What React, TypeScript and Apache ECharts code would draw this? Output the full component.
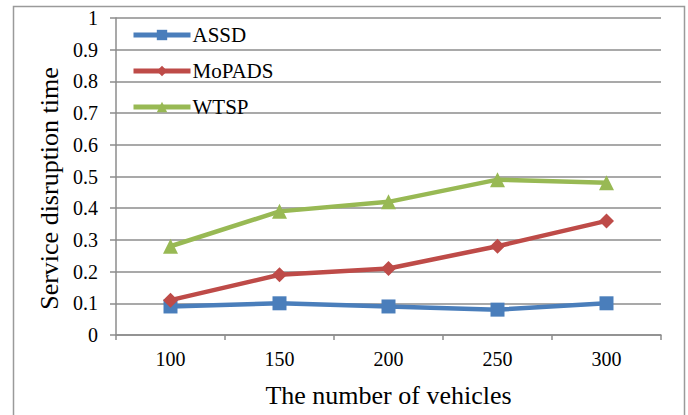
import React, { useEffect, useRef } from "react";
import * as echarts from "echarts";

const vehicles = ["100", "150", "200", "250", "300"];
const assd = [0.09, 0.1, 0.09, 0.08, 0.1];
const mopads = [0.11, 0.19, 0.21, 0.28, 0.36];
const wtsp = [0.28, 0.39, 0.42, 0.49, 0.48];
const yTicks = [0, 0.1, 0.2, 0.3, 0.4, 0.5, 0.6, 0.7, 0.8, 0.9, 1];

const FONT = "'Liberation Serif', 'Times New Roman', serif";
const GRID_GRAY = "#8c8c8c";

export default function App() {
  const ref = useRef<HTMLDivElement>(null);

  useEffect(() => {
    document.body.style.margin = "0";
    if (!ref.current) return;
    const chart = echarts.init(ref.current, undefined, { renderer: "svg" });

    const mkSeries = (name: string, data: number[], color: string, symbol: string, size: number) => ({
      name,
      type: "line",
      data,
      symbol,
      symbolSize: size,
      lineStyle: { color, width: 4.5 },
      itemStyle: { color },
      z: 3,
    });

    chart.setOption({
      animation: false,
      backgroundColor: "#ffffff",
      textStyle: { fontFamily: FONT },
      grid: { left: 116, right: 27, top: 18, bottom: 80, containLabel: false },
      legend: {
        orient: "vertical",
        left: 126,
        top: 19,
        itemWidth: 57,
        itemHeight: 13,
        itemGap: 14,
        lineStyle: { width: 5 },
        textStyle: { fontFamily: FONT, fontSize: 21, lineHeight: 22, color: "#000", padding: [0, 0, 0, -3] },
        data: ["ASSD", "MoPADS", "WTSP"],
      },
      xAxis: {
        type: "category",
        data: vehicles,
        boundaryGap: true,
        name: "The number of vehicles",
        nameLocation: "middle",
        nameGap: 47,
        nameTextStyle: { fontFamily: FONT, fontSize: 26, color: "#000" },
        axisLine: { lineStyle: { color: GRID_GRAY, width: 1.5 } },
        axisTick: { show: true, alignWithLabel: false, length: 5, lineStyle: { color: GRID_GRAY, width: 1.5 } },
        axisLabel: { fontFamily: FONT, fontSize: 20, color: "#000", margin: 14 },
        splitLine: { show: false },
      },
      yAxis: {
        type: "value",
        min: 0,
        max: 1,
        interval: 0.1,
        name: "Service disruption time",
        nameLocation: "middle",
        nameGap: 48,
        nameTextStyle: { fontFamily: FONT, fontSize: 26, color: "#000", padding: [0, 24, 0, 0] },
        axisLine: { show: true, lineStyle: { color: GRID_GRAY, width: 1.5 } },
        axisTick: { show: true, length: 6, lineStyle: { color: GRID_GRAY, width: 1.5 } },
        axisLabel: {
          fontFamily: FONT,
          fontSize: 20,
          color: "#000",
          margin: 18,
          formatter: (v: number) => {
            const t = yTicks.find((x) => Math.abs(x - v) < 1e-6);
            return t === undefined ? "" : String(t);
          },
        },
        splitLine: { show: true, lineStyle: { color: GRID_GRAY, width: 1.5 } },
      },
      graphic: [
        {
          type: "rect",
          shape: { x: 13.5, y: 6.5, width: 671, height: 420 },
          style: { fill: "none", stroke: "#9a9a9a", lineWidth: 1.5 },
          silent: true,
          z: -1,
        },
      ],
      series: [
        mkSeries("ASSD", assd, "#4a7ebb", "rect", 14),
        mkSeries("MoPADS", mopads, "#be4b48", "diamond", 15),
        mkSeries("WTSP", wtsp, "#98b954", "triangle", 15),
      ],
    });

    return () => chart.dispose();
  }, []);

  return <div ref={ref} style={{ width: 688, height: 415 }} />;
}
